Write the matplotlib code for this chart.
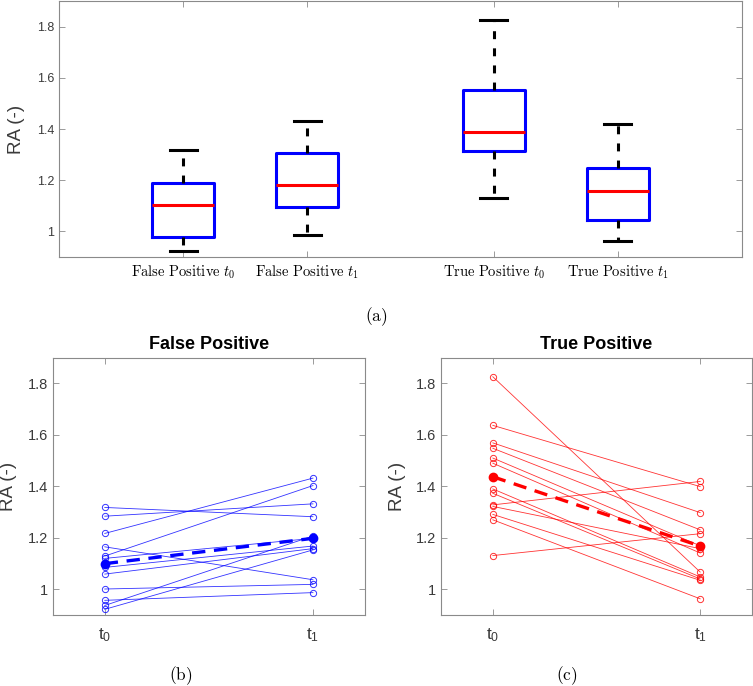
import numpy as np
import matplotlib
matplotlib.use('Agg')
import matplotlib.pyplot as plt

# ---------------------------------------------------------------------------
# DATA  (RA per subject)
# ---------------------------------------------------------------------------
fp_t0 = [1.318, 1.284, 1.217, 1.165, 1.129, 1.120, 1.085, 1.059, 1.001, 0.957, 0.937, 0.922]
fp_t1 = [1.282, 1.332, 1.432, 1.037, 1.403, 1.198, 1.168, 1.158, 1.019, 0.987, 1.207, 1.153]

tp_t0 = [1.826, 1.637, 1.569, 1.548, 1.510, 1.490, 1.390, 1.373, 1.328, 1.322, 1.291, 1.270, 1.131]
tp_t1 = [1.067, 1.399, 1.298, 1.231, 1.169, 1.141, 1.048, 1.040, 1.419, 1.158, 1.035, 0.963, 1.216]

box_labels = [r'$\mathrm{False\ Positive}\ t_0$', r'$\mathrm{False\ Positive}\ t_1$',
              r'$\mathrm{True\ Positive}\ t_0$', r'$\mathrm{True\ Positive}\ t_1$']
box_pos = [1, 2, 3.5, 4.5]
time_labels = [r'$\mathregular{t_0}$', r'$\mathregular{t_1}$']
yticks = [1, 1.2, 1.4, 1.6, 1.8]

# ---------------------------------------------------------------------------
# STYLE
# ---------------------------------------------------------------------------
plt.rcParams['font.family'] = ['Liberation Sans', 'DejaVu Sans']
plt.rcParams['mathtext.fontset'] = 'cm'
GREY = '#3a3a3a'
SPINE = '#8a8a8a'


def matlab_stats(vals):
    # quartiles the way MATLAB's boxplot does them ((i-0.5)/n positions)
    v = np.asarray(vals)
    q1, med, q3 = np.percentile(v, [25, 50, 75], method='hazen')
    iqr = q3 - q1
    lo = v[v >= q1 - 1.5 * iqr].min()
    hi = v[v <= q3 + 1.5 * iqr].max()
    return dict(med=med, q1=q1, q3=q3, whislo=lo, whishi=hi, fliers=[])


def style_axes(ax, fs):
    for s in ax.spines.values():
        s.set_color(SPINE)
        s.set_linewidth(0.8)
    ax.tick_params(direction='in', length=4, width=0.6, color=SPINE,
                   top=True, right=True, labelsize=fs, labelcolor=GREY)
    ax.set_ylim(0.9, 1.9)
    ax.set_yticks(yticks)
    ax.set_yticklabels(['%g' % t for t in yticks])


fig = plt.figure(figsize=(7.53, 6.86), dpi=100)

# ── (a) box plots ────────────────────────────────────────────────────────
ax = fig.add_axes([59 / 753, 1 - 257 / 686, 683 / 753, 256 / 686])
stats = [matlab_stats(d) for d in (fp_t0, fp_t1, tp_t0, tp_t1)]
dash = (0, (2.6, 3.0))
ax.bxp(stats, positions=box_pos, widths=0.5, capwidths=0.22, showfliers=False,
       boxprops=dict(color='#0000ff', linewidth=2.2),
       medianprops=dict(color='#ff0000', linewidth=2.2),
       whiskerprops=dict(color='black', linewidth=2.2, linestyle=dash),
       capprops=dict(color='black', linewidth=2.2))
style_axes(ax, 9)
ax.set_xlim(0, 5.5)
ax.set_xticks(box_pos)
ax.set_xticklabels(box_labels, fontsize=10.5, color='black')
ax.tick_params(axis='x', pad=5)
ax.set_ylabel('RA (-)', fontsize=13.5, color=GREY)
ax.yaxis.set_label_coords(-0.05, 0.5)
fig.text(376 / 753, 1 - 317 / 686, r'$\mathrm{(a)}$', ha='center', va='center', fontsize=12.5)

# ── (b), (c) paired plots ───────────────────────────────────────────────
panels = [
    ([52.7 / 753, 1 - 615 / 686, 312.3 / 753, 257.3 / 686], fp_t0, fp_t1, '#0000ff', 'False Positive', r'$\mathrm{(b)}$', 181),
    ([441 / 753, 1 - 615 / 686, 311 / 753, 257.3 / 686], tp_t0, tp_t1, '#ff0000', 'True Positive', r'$\mathrm{(c)}$', 567),
]
for rect, a, b, col, title, cap, capx in panels:
    ax = fig.add_axes(rect)
    for y0, y1 in zip(a, b):
        ax.plot([1, 2], [y0, y1], '-o', color=col, linewidth=0.6, alpha=0.8,
                markersize=4.5, markerfacecolor='none', markeredgewidth=0.7)
    ax.plot([1, 2], [np.mean(a), np.mean(b)], '--o', color=col, linewidth=2.4,
            dashes=(4, 2.6), markersize=5, markeredgewidth=2)
    style_axes(ax, 10.5)
    ax.set_xlim(0.75, 2.25)
    ax.set_xticks([1, 2])
    ax.set_xticklabels(time_labels, fontsize=12.5)
    ax.tick_params(axis='x', pad=8)
    ax.set_ylabel('RA (-)', fontsize=13.5, color=GREY)
    ax.yaxis.set_label_coords(-0.114, 0.5)
    ax.set_title(title, fontsize=13, fontweight='bold', pad=6)
    fig.text(capx / 753, 1 - 676 / 686, cap, ha='center', va='center', fontsize=12.5)

fig.savefig('out.png', dpi=100)
